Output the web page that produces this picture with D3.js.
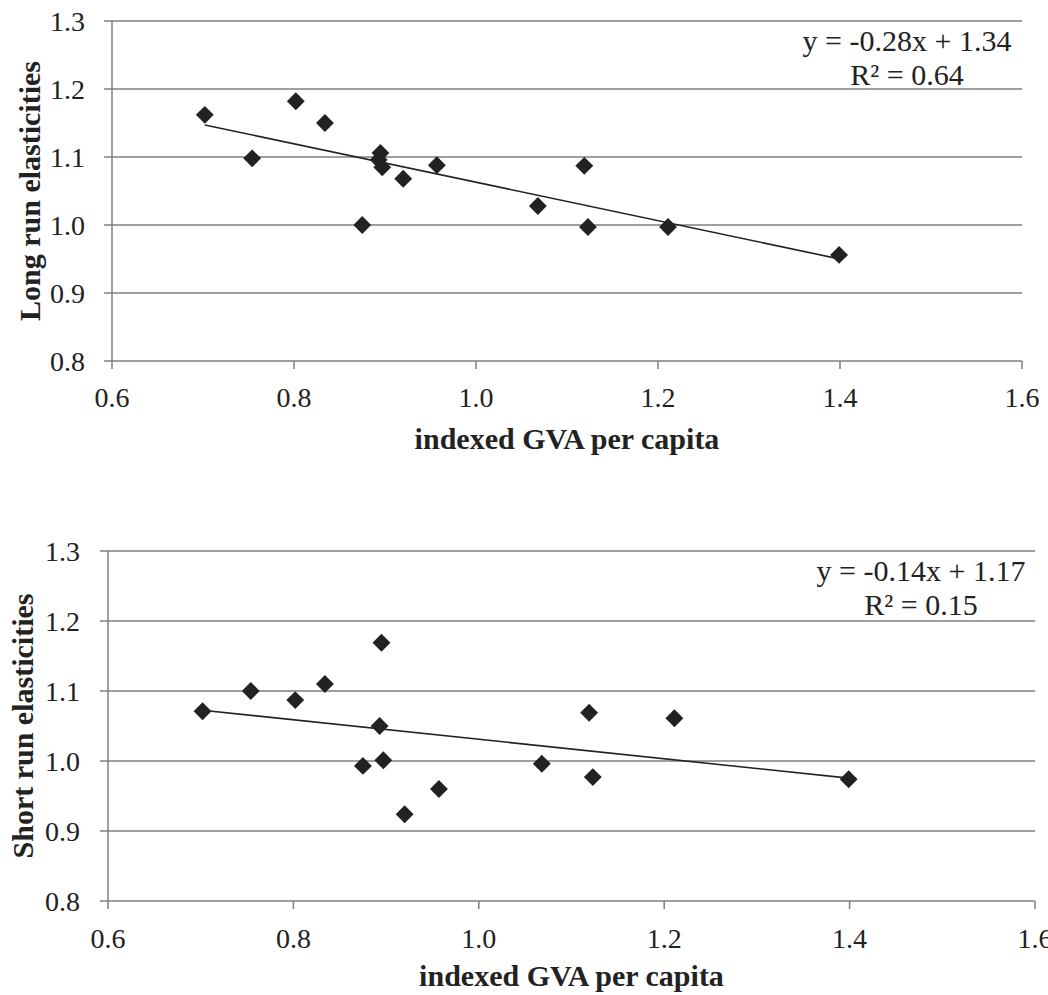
<!DOCTYPE html>
<html>
<head>
<meta charset="utf-8">
<script src="https://cdn.jsdelivr.net/npm/d3@7"></script>
<style>
  body { margin: 0; background: #fff; }
  text { font-family: "Liberation Serif", "DejaVu Serif", serif; fill: #222; }
</style>
</head>
<body>
<svg id="chart" width="1048" height="995"></svg>
<script>
// indexed GVA per capita (same regions in both panels)
var gva = [0.702, 0.754, 0.802, 0.834, 0.895, 0.893, 0.897, 0.875, 0.920, 0.957, 1.068, 1.119, 1.123, 1.211, 1.399];
var longRun = [1.162, 1.098, 1.182, 1.150, 1.106, 1.096, 1.085, 1.000, 1.068, 1.088, 1.028, 1.087, 0.997, 0.997, 0.956];
var shortRun = [1.071, 1.100, 1.087, 1.110, 1.169, 1.050, 1.001, 0.993, 0.924, 0.960, 0.996, 1.069, 0.977, 1.061, 0.974];
var xTicks = [0.6, 0.8, 1.0, 1.2, 1.4, 1.6];
var yTicks = [0.8, 0.9, 1.0, 1.1, 1.2, 1.3];
var xTitle = "indexed GVA per capita";
var panelTitles = ["Long run elasticities", "Short run elasticities"];
var equations = [["y = -0.28x + 1.34", "R\u00b2 = 0.64"], ["y = -0.14x + 1.17", "R\u00b2 = 0.15"]];

var svg = d3.select("#chart");
var grey = "#7f7f7f";

function fit(xs, ys) {
    var mx = d3.mean(xs), my = d3.mean(ys);
    var sxy = d3.sum(xs, function (x, i) { return (x - mx) * (ys[i] - my); });
    var sxx = d3.sum(xs, function (x) { return (x - mx) * (x - mx); });
    var b = sxy / sxx;
    return { slope: b, icpt: my - b * mx };
}

function panel(opt) {
    var x = d3.scaleLinear().domain([0.6, 1.6]).range([opt.left, opt.right]);
    var y = d3.scaleLinear().domain([0.8, 1.3]).range([opt.bottom, opt.top]);
    var g = svg.append("g");

    // horizontal gridlines (with the little tick stubs on the left)
    g.selectAll("line.grid")
        .data(yTicks)
        .enter()
        .append("line")
        .attr("x1", opt.left - 8)
        .attr("x2", opt.right)
        .attr("y1", function (d) { return y(d) })
        .attr("y2", function (d) { return y(d) })
        .attr("stroke", grey)
        .attr("stroke-width", 1.5);

    // y axis line
    g.append("line")
        .attr("x1", opt.left).attr("x2", opt.left)
        .attr("y1", opt.top).attr("y2", opt.bottom)
        .attr("stroke", grey).attr("stroke-width", 1.5);

    // x tick marks
    g.selectAll("line.xt")
        .data(xTicks)
        .enter()
        .append("line")
        .attr("x1", function (d) { return x(d) })
        .attr("x2", function (d) { return x(d) })
        .attr("y1", opt.bottom)
        .attr("y2", opt.bottom + 8)
        .attr("stroke", grey)
        .attr("stroke-width", 1.5);

    g.selectAll("text.yl")
        .data(yTicks)
        .enter()
        .append("text")
        .attr("x", opt.left - opt.ylGap)
        .attr("y", function (d) { return y(d) + 10 })
        .attr("text-anchor", "end")
        .style("font-size", "28px")
        .text(function (d) { return d3.format(".1f")(d) });

    g.selectAll("text.xl")
        .data(xTicks)
        .enter()
        .append("text")
        .attr("x", function (d) { return x(d) })
        .attr("y", opt.bottom + opt.xlDy)
        .attr("text-anchor", "middle")
        .style("font-size", "28px")
        .text(function (d) { return d3.format(".1f")(d) });

    g.append("text")
        .attr("x", (opt.left + opt.right) / 2)
        .attr("y", opt.bottom + opt.xtDy)
        .attr("text-anchor", "middle")
        .style("font-size", "30px")
        .style("font-weight", "bold")
        .text(xTitle);

    g.append("text")
        .attr("transform", "translate(" + opt.ytX + "," + (opt.top + opt.bottom) / 2 + ") rotate(-90)")
        .attr("text-anchor", "middle")
        .style("font-size", "30px")
        .style("font-weight", "bold")
        .text(opt.title);

    // trend line over the data range
    var f = fit(gva, opt.values);
    var x0 = d3.min(gva), x1 = d3.max(gva);
    g.append("line")
        .attr("x1", x(x0)).attr("y1", y(f.icpt + f.slope * x0))
        .attr("x2", x(x1)).attr("y2", y(f.icpt + f.slope * x1))
        .attr("stroke", "#222").attr("stroke-width", 1.6);

    g.selectAll("path.pt")
        .data(gva)
        .enter()
        .append("path")
        .attr("d", d3.symbol().type(d3.symbolSquare).size(160))
        .attr("transform", function (d, i) {
            return "translate(" + x(d) + "," + y(opt.values[i]) + ") rotate(45)";
        })
        .style("fill", "#222");

    g.selectAll("text.eq")
        .data(opt.eq)
        .enter()
        .append("text")
        .attr("x", opt.eqX)
        .attr("y", function (d, i) { return opt.eqY + i * 34 })
        .attr("text-anchor", "middle")
        .style("font-size", "30px")
        .text(function (d) { return d });
}

panel({ left: 112, right: 1022, top: 21, bottom: 361, values: longRun, title: panelTitles[0],
        eq: equations[0], eqX: 907, eqY: 51, ylGap: 27, xlDy: 46, xtDy: 88, ytX: 40 });
panel({ left: 108, right: 1035, top: 551, bottom: 901, values: shortRun, title: panelTitles[1],
        eq: equations[1], eqX: 921, eqY: 581, ylGap: 28, xlDy: 47, xtDy: 85, ytX: 33 });
</script>
</body>
</html>
